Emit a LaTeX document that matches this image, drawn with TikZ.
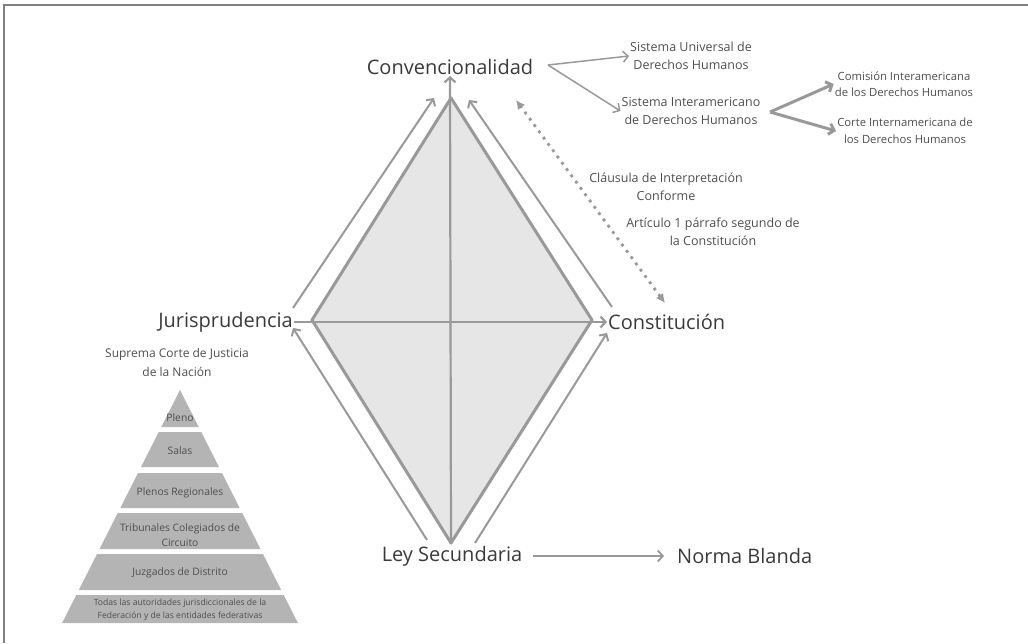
\documentclass[tikz,border=0pt]{standalone}
\usepackage{fontspec}
\setmainfont{Open Sans}
\usepackage{tikz}
\usetikzlibrary{arrows.meta}
\definecolor{linegray}{HTML}{999999}
\definecolor{diamfill}{HTML}{E6E6E6}
\definecolor{pyrfill}{HTML}{B4B4B4}
\definecolor{txtdark}{HTML}{3A3A3A}

\begin{document}
\begin{tikzpicture}[x=1pt,y=-1pt,
  big/.style={text=txtdark,font=\fontsize{20}{22}\selectfont,inner sep=1pt},
  small/.style={text=txtdark!90,font=\fontsize{12.5}{18}\selectfont,align=center,inner sep=1pt},
  tiny/.style={text=txtdark!90,font=\fontsize{11.3}{16.5}\selectfont,align=center,inner sep=1pt},
  pyrtxt/.style={text=txtdark!90,font=\fontsize{10.3}{14.5}\selectfont,align=center,inner sep=0pt},
  conn/.style={draw=linegray,line width=2pt,->},
  >={Straight Barb[length=5pt,width=11pt]}]
\useasboundingbox (0,0) rectangle (1028,643);
\draw[gray,line width=2pt] (4,643) -- (4,5) -- (1028,5);

% main labels
\node[big] (conv) at (450,67) {Convencionalidad};
\node[big,anchor=east] (juris) at (294,322) {Jurisprudencia};
\node[big,anchor=west] (const) at (607,322) {Constitución};
\node[big] (ley) at (452,556) {Ley Secundaria};
\node[big,anchor=west] (norma) at (676,556) {Norma Blanda};

% diamond
\coordinate (top) at (451,98);
\coordinate (lft) at (312,320);
\coordinate (rgt) at (592,320);
\coordinate (bot) at (451,543);
\filldraw[fill=diamfill,draw=linegray,line width=3pt,line join=round] (top) -- (lft) -- (bot) -- (rgt) -- cycle;
\draw[conn,line width=2.2pt] (bot) -- (conv.south);
\draw[conn,line width=2.2pt] (juris.east) -- (const.west);

% arrows beside the edges
\draw[conn] (293,308) -- (434,98);
\draw[conn] (612,307) -- (469,100);
\draw[conn] (427,540) -- (293,328);
\draw[conn] (475,543) -- (607,333);
\draw[conn,line width=1.8pt,shorten >=12pt] (ley.east) ++(10,0) -- (norma.west);
\draw[draw=linegray,line width=2.8pt,dash pattern=on 2.8pt off 5pt,
  {Latex[length=9pt,width=9pt]}-{Latex[length=9pt,width=9pt]}] (665,303) -- (516,100);

% conventionality branch
\node[small] (univ) at (691,56) {Sistema Universal de\\Derechos Humanos};
\node[small] (inter) at (691,111) {Sistema Interamericano\\de Derechos Humanos};
\node[tiny] (comi) at (904,84) {Comisión Interamericana\\de los Derechos Humanos};
\node[tiny] (corte) at (905,131) {Corte Internamericana de\\los Derechos Humanos};
\coordinate (cfork) at (548,65);
\draw[conn,line width=1.5pt] (cfork) -- (univ.west);
\draw[conn,line width=1.5pt] (cfork) -- (inter.west);
\coordinate (ifork) at (770,112);
\draw[conn,line width=3pt] (ifork) -- (comi.west);
\draw[conn,line width=3pt] (ifork) -- (corte.west);

\node[small] (claus) at (666,187) {Cláusula de Interpretación\\Conforme};
\node[small] (artic) at (713,232) {Artículo 1 párrafo segundo de\\la Constitución};

% pyramid
\node[small,font=\fontsize{12}{19}\selectfont] (scjn) at (177,362) {Suprema Corte de Justicia\\de la Nación};
\foreach \ya/\yb in {390/427,432/467,473/508,513/549,554/590,595/623}
  \fill[pyrfill] ({180-0.506*(\ya-390)},\ya) -- ({180+0.506*(\ya-390)},\ya)
    -- ({180+0.506*(\yb-390)},\yb) -- ({180-0.506*(\yb-390)},\yb) -- cycle;
\node[pyrtxt] (pleno) at (180,418) {Pleno};
\node[pyrtxt] (salas) at (180,451) {Salas};
\node[pyrtxt] (plreg) at (180,493) {Plenos Regionales};
\node[pyrtxt] (tribu) at (180,535) {Tribunales Colegiados de\\Circuito};
\node[pyrtxt] (juzg) at (180,573) {Juzgados de Distrito};
\node[pyrtxt,font=\fontsize{8.6}{12.5}\selectfont] (todas) at (180,610) {Todas las autoridades jurisdiccionales de la\\Federación y de las entidades federativas};
\end{tikzpicture}
\end{document}
